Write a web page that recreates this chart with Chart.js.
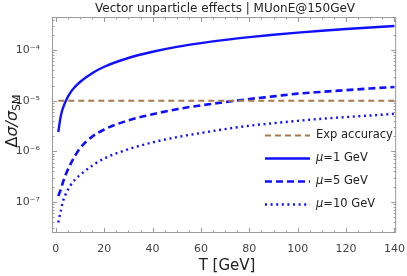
<!DOCTYPE html>
<html>
<head>
<meta charset="utf-8">
<script src="https://cdn.jsdelivr.net/npm/chart.js@4/dist/chart.umd.min.js"></script>
<style>
  html, body { margin: 0; padding: 0; background: #fff; }
  #wrap { width: 407px; height: 276px; position: relative; }
</style>
</head>
<body>
<div id="wrap"><canvas id="myChart"></canvas></div>
<script>
// values
const T = [1, 2, 3, 4, 6, 8, 10, 15, 20, 30, 40, 50, 60, 70, 80, 90, 100, 110, 120, 130, 140];
const mu1 = [2.4e-6, 4.9e-6, 7.3e-6, 9.7e-6, 1.45e-5, 1.9e-5, 2.35e-5, 3.5e-5, 4.7e-5, 7.0e-5, 9.3e-5,
  1.16e-4, 1.38e-4, 1.6e-4, 1.81e-4, 2.02e-4, 2.22e-4, 2.42e-4, 2.62e-4, 2.81e-4, 3.0e-4];
const mu5 = [1.3e-7, 1.75e-7, 2.5e-7, 3.4e-7, 5.5e-7, 8.2e-7, 1.15e-6, 1.95e-6, 2.7e-6, 4.1e-6, 5.4e-6,
  6.8e-6, 8.1e-6, 9.4e-6, 1.08e-5, 1.22e-5, 1.38e-5, 1.5e-5, 1.62e-5, 1.75e-5, 1.87e-5];
const mu10 = [3.9e-8, 6.5e-8, 1.05e-7, 1.4e-7, 2.1e-7, 2.8e-7, 3.4e-7, 5.2e-7, 7.2e-7, 1.1e-6, 1.5e-6,
  1.9e-6, 2.3e-6, 2.75e-6, 3.2e-6, 3.6e-6, 4.0e-6, 4.4e-6, 4.75e-6, 5.1e-6, 5.5e-6];
const expT = [1, 140];
const expAcc = [1e-5, 1e-5];
const xTicks = [0, 20, 40, 60, 80, 100, 120, 140];
const yTicks = [1e-7, 1e-6, 1e-5, 1e-4];
const labels = ["Exp accuracy", "μ=1 GeV", "μ=5 GeV", "μ=10 GeV"];

const BLUE = "#1010ff";
const BROWN = "#a87a4c";
const AXIS = "#9a9a9a";
const FONT = "'DejaVu Sans', sans-serif";

const pts = (xs, ys) => xs.map((x, i) => ({ x: x, y: ys[i] }));
const sup = (n) => String(n).replace("-", "⁻").replace(/\d/g, (d) => "⁰¹²³⁴⁵⁶⁷⁸⁹"[d]);

const frame = {
  id: "frame",
  afterDatasetsDraw(chart) {
    const { ctx, chartArea: a, scales } = chart;
    const xs = scales.x, ys = scales.y;
    ctx.save();
    ctx.strokeStyle = AXIS;
    ctx.lineWidth = 1;
    ctx.strokeRect(a.left + 0.5, a.top + 0.5, a.right - a.left - 1, a.bottom - a.top - 1);
    ctx.beginPath();
    // x ticks, major every 20, minor every 5
    for (let v = 0; v <= 140; v += 5) {
      const px = Math.round(xs.getPixelForValue(v)) + 0.5;
      const len = v % 20 === 0 ? 5 : 2.5;
      ctx.moveTo(px, a.bottom); ctx.lineTo(px, a.bottom - len);
      ctx.moveTo(px, a.top); ctx.lineTo(px, a.top + len);
    }
    // y ticks, log
    for (let e = -8; e <= -4; e++) {
      for (let k = 1; k <= 9; k++) {
        const v = k * Math.pow(10, e);
        if (v < ys.min || v > ys.max) continue;
        const py = Math.round(ys.getPixelForValue(v)) + 0.5;
        const len = k === 1 ? 5 : 2.5;
        ctx.moveTo(a.left, py); ctx.lineTo(a.left + len, py);
        ctx.moveTo(a.right, py); ctx.lineTo(a.right - len, py);
      }
    }
    ctx.stroke();

    // title
    ctx.fillStyle = "#222";
    ctx.font = "12px " + FONT;
    ctx.textAlign = "center";
    ctx.textBaseline = "middle";
    ctx.fillText("Vector unparticle effects | MUonE@150GeV", 225, 8.5);

    // x title
    ctx.font = "15px " + FONT;
    ctx.fillText("T [GeV]", 227, 266);

    // y title with subscript
    ctx.save();
    ctx.translate(17, 121);
    ctx.rotate(-Math.PI / 2);
    ctx.textAlign = "left";
    ctx.textBaseline = "alphabetic";
    ctx.font = "16px " + FONT;
    const s1 = "Δ", s2 = "σ/", s3 = "σ";
    const w1 = ctx.measureText(s1).width;
    ctx.font = "italic 16px " + FONT;
    const w2 = ctx.measureText(s2).width, w3 = ctx.measureText(s3).width;
    ctx.font = "11px " + FONT;
    const w4 = ctx.measureText("SM").width;
    let x0 = -(w1 + w2 + w3 + w4) / 2;
    ctx.font = "16px " + FONT;
    ctx.fillText(s1, x0, 0); x0 += w1;
    ctx.font = "italic 16px " + FONT;
    ctx.fillText(s2, x0, 0); x0 += w2;
    ctx.fillText(s3, x0, 0); x0 += w3;
    ctx.font = "11px " + FONT;
    ctx.fillText("SM", x0, 3);
    ctx.restore();

    // legend
    const ds = chart.data.datasets;
    const rows = [135.5, 158.5, 181.5, 204.5];
    ds.forEach((d, i) => {
      const y = rows[i];
      ctx.save();
      ctx.strokeStyle = d.borderColor;
      ctx.lineWidth = d.borderWidth;
      ctx.setLineDash(d.borderDash || []);
      ctx.beginPath();
      ctx.moveTo(265, y); ctx.lineTo(310, y);
      ctx.stroke();
      ctx.restore();
      ctx.fillStyle = "#222";
      ctx.textAlign = "left";
      ctx.textBaseline = "middle";
      const lab = labels[i];
      let tx = 316;
      if (lab.startsWith("μ")) {
        ctx.font = "italic 11.5px " + FONT;
        ctx.fillText("μ", tx, y);
        tx += ctx.measureText("μ").width;
        ctx.font = "11.5px " + FONT;
        ctx.fillText(lab.slice(1), tx, y);
      } else {
        ctx.font = "11.5px " + FONT;
        ctx.fillText(lab, tx, y);
      }
    });
    ctx.restore();
  },
};

const config = {
  type: "line",
  data: {
    datasets: [
      { data: pts(expT, expAcc), borderColor: BROWN, borderWidth: 2.2, borderDash: [6, 4] },
      { data: pts(T, mu1), borderColor: BLUE, borderWidth: 2.4 },
      { data: pts(T, mu5), borderColor: BLUE, borderWidth: 2.6, borderDash: [7, 4] },
      { data: pts(T, mu10), borderColor: BLUE, borderWidth: 2.4, borderDash: [2, 3.6] },
    ],
  },
  options: {
    responsive: true,
    maintainAspectRatio: false,
    animation: false,
    events: [],
    layout: { padding: { left: 0, right: 10, top: 17, bottom: 0 } },
    elements: {
      point: { radius: 0 },
      line: { cubicInterpolationMode: "monotone", fill: false },
    },
    plugins: { legend: { display: false }, title: { display: false }, tooltip: { enabled: false } },
    scales: {
      x: {
        type: "linear",
        min: -1.6,
        max: 140.7,
        grid: { display: false },
        border: { display: false },
        afterFit: (s) => { s.height = 43; },
        afterBuildTicks: (s) => { s.ticks = xTicks.map((v) => ({ value: v })); },
        ticks: { color: "#444", font: { size: 11, family: FONT }, padding: 2, maxRotation: 0 },
      },
      y: {
        type: "logarithmic",
        min: 2.42e-8,
        max: 4.53e-4,
        grid: { display: false },
        border: { display: false },
        afterFit: (s) => { s.width = 52; },
        afterBuildTicks: (s) => { s.ticks = yTicks.map((v) => ({ value: v })); },
        ticks: {
          color: "#444",
          font: { size: 11, family: FONT },
          padding: 4,
          autoSkip: false,
          callback: (v) => "10" + sup(Math.round(Math.log10(v))),
        },
      },
    },
  },
  plugins: [frame],
};

window.addEventListener("DOMContentLoaded", () => {
  new Chart(document.getElementById("myChart"), config);
});
</script>
</body>
</html>
